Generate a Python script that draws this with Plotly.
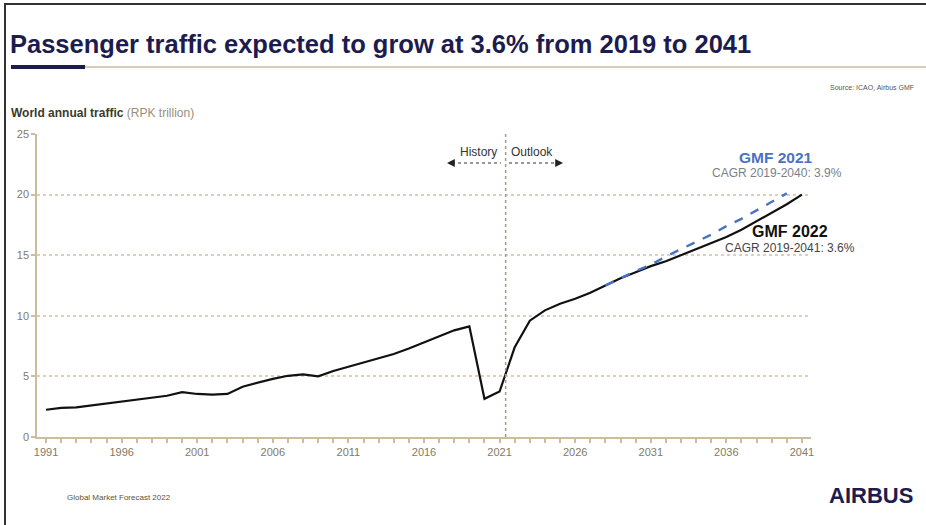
import plotly.graph_objects as go

# ---------------- data ----------------
years_2022 = list(range(1991, 2042))
gmf2022 = [2.25, 2.4, 2.45, 2.6, 2.8, 2.95, 3.1, 3.2, 3.4, 3.7,
           3.55, 3.5, 3.55, 4.15, 4.5, 4.8, 5.05, 5.17, 5.0, 5.45,
           5.8, 6.15, 6.5, 6.85, 7.3, 7.8, 8.3, 8.8, 9.13, 3.15,
           3.75, 7.4, 9.6, 10.45, 11.0, 11.4, 11.9, 12.5, 13.1, 13.6,
           14.1, 14.5, 15.0, 15.5, 16.0, 16.5, 17.1, 17.8, 18.5, 19.2,
           20.0]
years_2021 = list(range(2028, 2041))
gmf2021 = [12.5, 13.1, 13.7, 14.2, 14.9, 15.5, 16.1, 16.7, 17.4, 18.0,
           18.7, 19.4, 20.1]
x_ticks = list(range(1991, 2042, 5))
y_ticks = [0, 5, 10, 15, 20, 25]
split_year = 2021.4

# ---------------- layout helpers ----------------
W, H = 926, 525
ML, MR, MT, MB = 37, 115, 134, 88
PW, PH = W - ML - MR, H - MT - MB


def px(x):
    return (x - ML) / PW


def py(y):
    return (H - MB - y) / PH


FONT = "Liberation Sans, Arial, sans-serif"
NAVY = "#1c1c4e"
TAN = "#cbbd9e"
GRID = "#ddd0b8"
TICK = "#837a64"

fig = go.Figure()
fig.add_trace(go.Scatter(x=years_2022, y=gmf2022, mode="lines",
                         line=dict(color="#111111", width=2.2), name="GMF 2022",
                         showlegend=False))
fig.add_trace(go.Scatter(x=years_2021, y=gmf2021, mode="lines",
                         line=dict(color="#4a72c4", width=2.4, dash="dash"),
                         name="GMF 2021", showlegend=False))

shapes = [
    # frame (left & top)
    dict(type="line", xref="paper", yref="paper", x0=px(5), x1=px(5), y0=py(3), y1=py(525),
         line=dict(color="#333333", width=2)),
    dict(type="line", xref="paper", yref="paper", x0=px(4), x1=px(926), y0=py(4), y1=py(4),
         line=dict(color="#333333", width=2)),
    # title underline
    dict(type="line", xref="paper", yref="paper", x0=px(84), x1=px(926), y0=py(67), y1=py(67),
         line=dict(color="#a89a78", width=1)),
    dict(type="line", xref="paper", yref="paper", x0=px(11), x1=px(85), y0=py(67), y1=py(67),
         line=dict(color=NAVY, width=4)),
    # history / outlook split
    dict(type="line", xref="x", yref="paper", x0=split_year, x1=split_year, y0=0, y1=1,
         line=dict(color="#a89a7c", width=1.5, dash="dot")),
    # dotted arrow shafts
    dict(type="line", xref="paper", yref="paper", x0=px(452), x1=px(501), y0=py(163), y1=py(163),
         line=dict(color="#333333", width=1.2, dash="dot")),
    dict(type="line", xref="paper", yref="paper", x0=px(509), x1=px(558), y0=py(163), y1=py(163),
         line=dict(color="#333333", width=1.2, dash="dot")),
]

annotations = [
    dict(text="<b>Passenger traffic expected to grow at 3.6% from 2019 to 2041</b>",
         x=px(8), y=py(44), xanchor="left", yanchor="middle",
         font=dict(size=25.5, color=NAVY, family=FONT)),
    dict(text="Source: ICAO, Airbus GMF", x=px(916), y=py(88), xanchor="right", yanchor="middle",
         font=dict(size=7, color="#555555", family=FONT)),
    dict(text="<b>World annual traffic</b> <span style='color:#9a8f7a'>(RPK trillion)</span>",
         x=px(9), y=py(113), xanchor="left", yanchor="middle",
         font=dict(size=12, color="#3a3a2a", family=FONT)),
    dict(text="History", x=px(478), y=py(152), xanchor="center", yanchor="middle",
         font=dict(size=12, color="#333333", family=FONT)),
    dict(text="Outlook", x=px(532), y=py(152), xanchor="center", yanchor="middle",
         font=dict(size=12, color="#333333", family=FONT)),
    # arrowheads
    dict(text="", x=px(447), y=py(163), ax=5, ay=0, showarrow=True, arrowhead=2,
         arrowsize=1.2, arrowwidth=1.3, arrowcolor="#222222"),
    dict(text="", x=px(563), y=py(163), ax=-5, ay=0, showarrow=True, arrowhead=2,
         arrowsize=1.2, arrowwidth=1.3, arrowcolor="#222222"),
    dict(text="<b>GMF 2021</b>", x=px(776), y=py(157), xanchor="center", yanchor="middle",
         font=dict(size=15.5, color="#4a72c4", family=FONT)),
    dict(text="CAGR 2019-2040: 3.9%", x=px(777), y=py(173), xanchor="center", yanchor="middle",
         font=dict(size=12, color="#7a7f8c", family=FONT)),
    dict(text="<b>GMF 2022</b>", x=px(790), y=py(231), xanchor="center", yanchor="middle",
         font=dict(size=16, color="#111111", family=FONT)),
    dict(text="CAGR 2019-2041: 3.6%", x=px(790), y=py(248), xanchor="center", yanchor="middle",
         font=dict(size=12, color="#444444", family=FONT)),
    dict(text="Global Market Forecast 2022", x=px(65), y=py(497), xanchor="left", yanchor="middle",
         font=dict(size=8, color="#5a5535", family=FONT)),
    dict(text="<b>AIRBUS</b>", x=px(915), y=py(495), xanchor="right", yanchor="middle",
         font=dict(size=22, color=NAVY, family=FONT)),
]
for a in annotations:
    a.setdefault("xref", "paper")
    a.setdefault("yref", "paper")
    a.setdefault("showarrow", False)

fig.update_layout(
    width=W, height=H,
    margin=dict(l=ML, r=MR, t=MT, b=MB, pad=0),
    paper_bgcolor="white", plot_bgcolor="white",
    shapes=shapes, annotations=annotations,
    font=dict(family=FONT, color=TICK, size=11),
    xaxis=dict(range=[1990.4, 2041.6], tickvals=x_ticks, ticktext=[str(v) for v in x_ticks],
               showgrid=False, zeroline=False, showline=True, linecolor=TAN, linewidth=1.5,
               ticks="outside", ticklen=4, tickcolor=TAN, tickwidth=1.5,
               minor=dict(dtick=1, tick0=1991, ticks="outside", ticklen=4, tickcolor=TAN,
                          tickwidth=1.5, showgrid=False),
               tickfont=dict(size=11, color=TICK, family=FONT), fixedrange=True),
    yaxis=dict(range=[0, 25], tickvals=y_ticks, showgrid=True, gridcolor=GRID, griddash="dot",
               gridwidth=1.5, zeroline=False, showline=True, linecolor=TAN, linewidth=1.5,
               ticks="outside", ticklen=4, tickcolor=TAN, tickwidth=1.5,
               tickfont=dict(size=11, color=TICK, family=FONT), fixedrange=True),
)

fig.write_html("out.html")
